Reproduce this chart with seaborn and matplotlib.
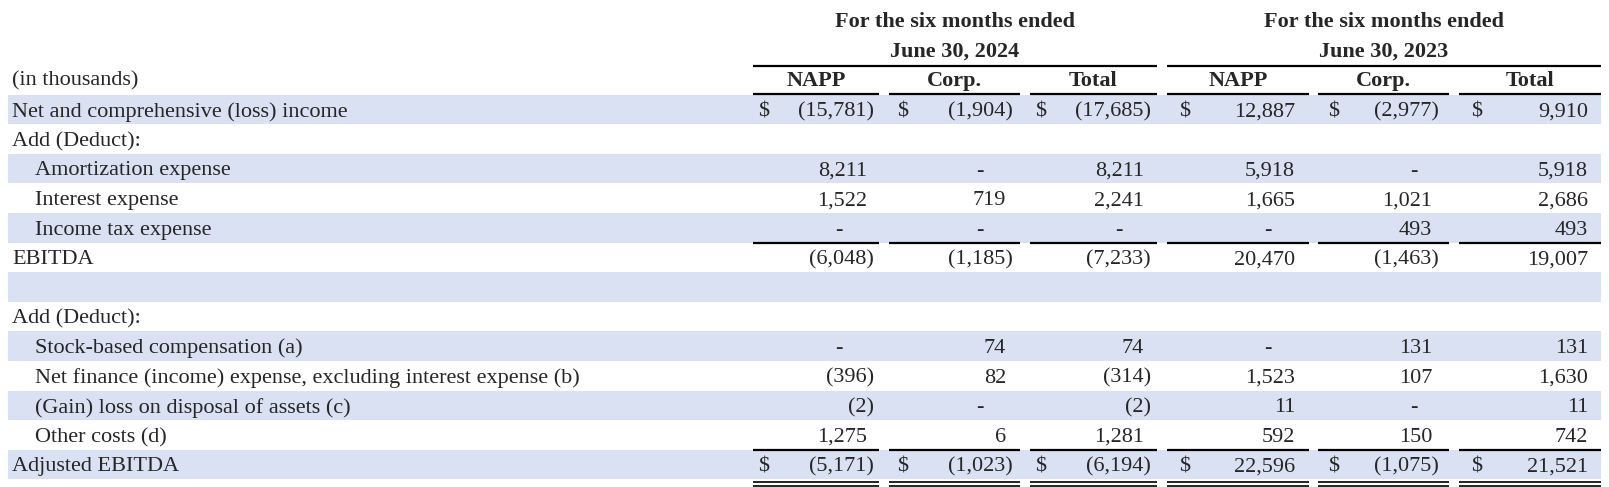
import matplotlib

matplotlib.use("Agg")
import matplotlib.pyplot as plt
import numpy as np
import seaborn as sns
from matplotlib.colors import ListedColormap

# ---- data -------------------------------------------------------------
row_labels = [
    "Net and comprehensive (loss) income",
    "Add (Deduct):",
    "Amortization expense",
    "Interest expense",
    "Income tax expense",
    "EBITDA",
    "",
    "Add (Deduct):",
    "Stock-based compensation (a)",
    "Net finance (income) expense, excluding interest expense (b)",
    "(Gain) loss on disposal of assets (c)",
    "Other costs (d)",
    "Adjusted EBITDA",
]
row_indent = [0, 0, 1, 1, 1, 0, 0, 0, 1, 1, 1, 1, 0]
dollar_rows = [0, 12]

period_titles = ["June 30, 2024", "June 30, 2023"]
column_names = ["NAPP", "Corp.", "Total", "NAPP", "Corp.", "Total"]

# None = empty cell, 0 = shown as a dash
napp_2024 = [-15781, None, 8211, 1522, 0, -6048, None, None, 0, -396, -2, 1275, -5171]
corp_2024 = [-1904, None, 0, 719, 0, -1185, None, None, 74, 82, 0, 6, -1023]
total_2024 = [-17685, None, 8211, 2241, 0, -7233, None, None, 74, -314, -2, 1281, -6194]
napp_2023 = [12887, None, 5918, 1665, 0, 20470, None, None, 0, 1523, 11, 592, 22596]
corp_2023 = [-2977, None, 0, 1021, 493, -1463, None, None, 131, 107, 0, 150, -1075]
total_2023 = [9910, None, 5918, 2686, 493, 19007, None, None, 131, 1630, 11, 742, 21521]
columns = [napp_2024, corp_2024, total_2024, napp_2023, corp_2023, total_2023]

# ---- layout (pixels of a 1609x487 canvas) ------------------------------
W, H = 1609, 487
BAND = "#D9E1F2"
TOP = 94.5
ROW_H = 29.6
col_left = [753, 889, 1030, 1167, 1318, 1459]
col_right = [879, 1020, 1157, 1309, 1449, 1601]
paren_right = [874, 1013, 1151, 1302, 1439, 1595]
dash_x = [839, 980, 1119, 1268, 1414, 1560]
dollar_x = [764, 903, 1041, 1185, 1334, 1477]
FS = 16


def fmt(v):
    if v < 0:
        return f"({abs(v):,})"
    return f"{v:,}"


def main() -> None:
    sns.set_theme(style="white")
    plt.rcParams["font.family"] = ["Liberation Serif", "DejaVu Serif"]

    fig = plt.figure(figsize=(W / 100, H / 100), dpi=100)
    n = len(row_labels)

    # alternating row bands via a one-column heatmap
    bottom = TOP + ROW_H * n
    hax = fig.add_axes([8 / W, 1 - bottom / H, (1601 - 8) / W, (bottom - TOP) / H])
    shade = np.array([[1 - i % 2] for i in range(n)])
    sns.heatmap(
        shade,
        cmap=ListedColormap(["white", BAND]),
        vmin=0,
        vmax=1,
        cbar=False,
        xticklabels=False,
        yticklabels=False,
        ax=hax,
    )
    hax.set_axis_off()

    ax = fig.add_axes([0, 0, 1, 1], zorder=2)
    ax.patch.set_alpha(0)
    ax.set_xlim(0, W)
    ax.set_ylim(H, 0)
    ax.set_axis_off()

    # headers
    groups = [(col_left[0], col_right[2]), (col_left[3], col_right[5])]
    for (x0, x1), title in zip(groups, period_titles):
        xc = (x0 + x1) / 2
        ax.text(xc, 22, "For the six months ended", ha="center", va="center",
                fontsize=FS, fontweight="bold")
        ax.text(xc, 52, title, ha="center", va="center", fontsize=FS, fontweight="bold")
        ax.plot([x0, x1], [65.5, 65.5], color="black", lw=1.6, solid_capstyle="butt")
    ax.text(12, 81, "(in thousands)", ha="left", va="center", fontsize=FS)
    for j, name in enumerate(column_names):
        xc = (col_left[j] + col_right[j]) / 2
        ax.text(xc, 81, name, ha="center", va="center", fontsize=FS, fontweight="bold")
        ax.plot([col_left[j], col_right[j]], [93.5, 93.5], color="black", lw=1.6,
                solid_capstyle="butt")

    # body
    for i, label in enumerate(row_labels):
        yc = TOP + ROW_H * (i + 0.5) + 2.5
        if label:
            ax.text(12 + 23 * row_indent[i], yc, label, ha="left", va="center", fontsize=FS)
        for j, col in enumerate(columns):
            v = col[i]
            if v is None:
                continue
            if i in dollar_rows:
                ax.text(dollar_x[j], yc, "$", ha="center", va="center", fontsize=FS)
            if v == 0:
                ax.text(dash_x[j], yc, "-", ha="center", va="center", fontsize=FS)
            elif v < 0:
                ax.text(paren_right[j], yc, fmt(v), ha="right", va="center", fontsize=FS)
            else:
                ax.text(paren_right[j] - 7, yc, fmt(v), ha="right", va="center", fontsize=FS)

    # rules: single above subtotals, double under the final total
    for j in range(len(columns)):
        x = [col_left[j], col_right[j]]
        ax.plot(x, [TOP + ROW_H * 5] * 2, color="black", lw=1.6, solid_capstyle="butt")
        ax.plot(x, [TOP + ROW_H * 12] * 2, color="black", lw=1.6, solid_capstyle="butt")
        ax.plot(x, [481.5] * 2, color="black", lw=1.2, solid_capstyle="butt")
        ax.plot(x, [485.5] * 2, color="black", lw=1.2, solid_capstyle="butt")

    fig.savefig("out.png", dpi=100)
    plt.close(fig)


if __name__ == "__main__":
    main()
